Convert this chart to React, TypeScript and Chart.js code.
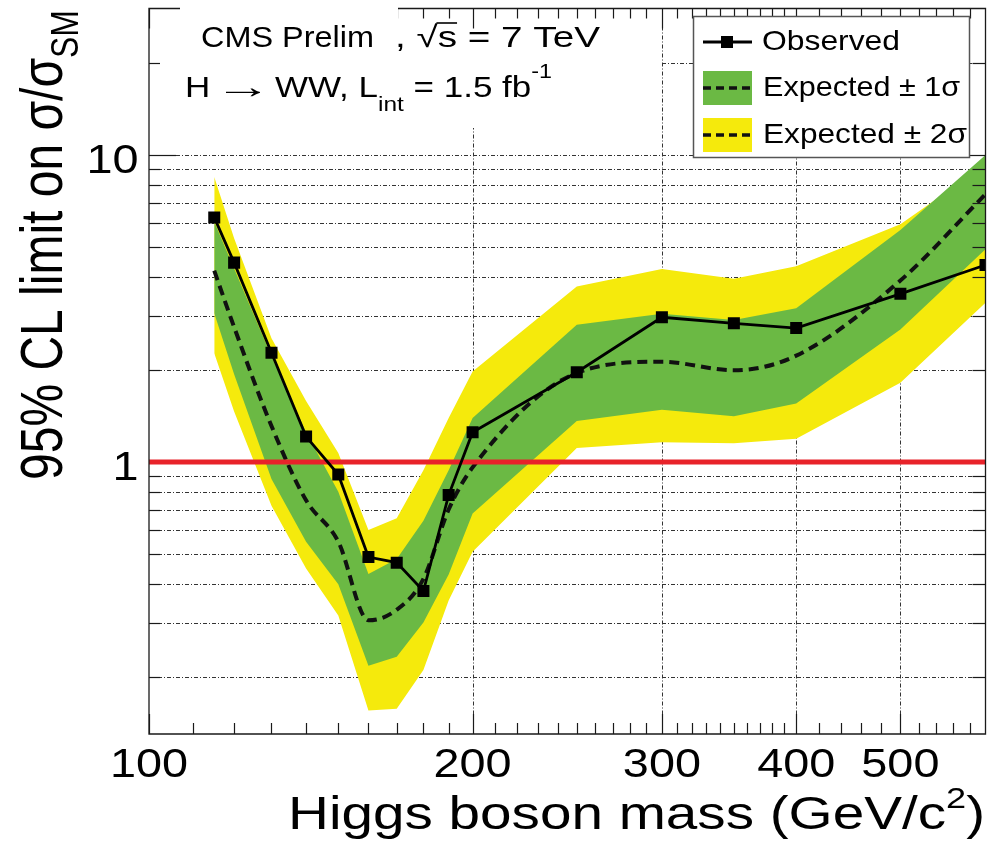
import { useEffect, useRef } from "react";
import { Chart, registerables } from "chart.js";

Chart.register(...registerables);

// ---------- data ----------
const masses = [115, 120, 130, 140, 150, 160, 170, 180, 190, 200, 250, 300, 350, 400, 500, 600];
const observed = [6.26, 4.46, 2.27, 1.21, 0.91, 0.49, 0.47, 0.38, 0.78, 1.25, 1.96, 2.96, 2.83, 2.73, 3.53, 4.38];
const expected = [4.2, 2.75, 1.31, 0.75, 0.55, 0.305, 0.33, 0.416, 0.7, 0.96, 1.95, 2.12, 1.99, 2.22, 3.9, 7.45];
const plus1 = [6.06, 4.27, 2.21, 1.25, 0.8, 0.432, 0.483, 0.643, 0.94, 1.39, 2.8, 3.04, 2.9, 3.17, 5.7, 10.0];
const minus1 = [3.05, 1.93, 0.88, 0.55, 0.4, 0.217, 0.232, 0.3, 0.43, 0.68, 1.36, 1.48, 1.41, 1.55, 2.7, 4.93];
const plus2 = [8.48, 5.35, 2.53, 1.58, 1.07, 0.6, 0.656, 0.94, 1.39, 1.97, 3.73, 4.25, 3.95, 4.34, 5.95, 9.3];
const minus2 = [2.26, 1.46, 0.72, 0.45, 0.316, 0.155, 0.157, 0.21, 0.354, 0.51, 1.11, 1.16, 1.15, 1.19, 1.81, 3.3];
const smLine = [1, 1];
const smRange = [100, 600];

const xTickValues = [100, 200, 300, 400, 500];
const xTickLabels = ["100", "200", "300", "400", "500"];
const xMinorTicks = [110, 120, 130, 140, 150, 160, 170, 180, 190, 210, 220, 230, 240, 250, 260, 270, 280, 290,
  310, 320, 330, 340, 350, 360, 370, 380, 390, 420, 440, 460, 480, 520, 540, 560, 580];
const xGridValues = [200, 300, 400, 500];

const yTickValues = [1, 10];
const yTickLabels = ["1", "10"];
const yMinorTicks = [0.2, 0.3, 0.4, 0.5, 0.6, 0.7, 0.8, 0.9, 2, 3, 4, 5, 6, 7, 8, 9, 20];
const yGridValues = [0.2, 0.3, 0.4, 0.5, 0.6, 0.7, 0.8, 0.9, 2, 3, 4, 5, 6, 7, 8, 9, 10, 20];

const legendLabels = ["Observed", "Expected \u00b1 1\u03c3", "Expected \u00b1 2\u03c3"];

// ---------- style ----------
const YELLOW = "#f5ea0c";
const GREEN = "#6bb944";
const RED = "#e8232a";
const FONT = '"Liberation Sans", Arial, Helvetica, sans-serif';

type Run = { t: string; s: number; dy?: number; over?: boolean; k?: number };

function runW(ctx: CanvasRenderingContext2D, r: Run) {
  ctx.font = `${r.s}px ${FONT}`;
  return ctx.measureText(r.t).width * (r.k ?? 1);
}

function runsWidth(ctx: CanvasRenderingContext2D, runs: Run[]) {
  let w = 0;
  for (const r of runs) w += runW(ctx, r);
  return w;
}

function drawRuns(
  ctx: CanvasRenderingContext2D,
  runs: Run[],
  x: number,
  y: number,
  o: { width?: number; sx?: number; sy?: number; rot?: number; align?: "left" | "center" | "right" } = {}
) {
  ctx.save();
  ctx.translate(x, y);
  if (o.rot) ctx.rotate(o.rot);
  const w = runsWidth(ctx, runs);
  const sx = o.width ? o.width / w : o.sx ?? 1;
  ctx.scale(sx, o.sy ?? 1);
  let cx = o.align === "center" ? -w / 2 : o.align === "right" ? -w : 0;
  ctx.textBaseline = "alphabetic";
  ctx.textAlign = "left";
  ctx.fillStyle = "#000";
  for (const r of runs) {
    const m = runW(ctx, r);
    ctx.font = `${r.s}px ${FONT}`;
    ctx.save();
    ctx.translate(cx, r.dy ?? 0);
    ctx.scale(r.k ?? 1, 1);
    ctx.fillText(r.t, 0, 0);
    ctx.restore();
    if (r.over) {
      ctx.strokeStyle = "#000";
      ctx.lineWidth = 1.6;
      ctx.setLineDash([]);
      ctx.beginPath();
      const yy = (r.dy ?? 0) - r.s * 0.8;
      ctx.moveTo(cx - 1, yy);
      ctx.lineTo(cx + m, yy);
      ctx.stroke();
    }
    cx += m;
  }
  ctx.restore();
}

const gridPlugin = {
  id: "rootGrid",
  beforeDatasetsDraw(chart: any) {
    const { ctx, chartArea } = chart;
    const { left, right, top, bottom } = chartArea;
    const xs = chart.scales.x;
    const ys = chart.scales.y;
    ctx.save();
    ctx.strokeStyle = "#333";
    ctx.lineWidth = 1;
    ctx.setLineDash([4, 2, 1, 2]);
    for (const v of yGridValues) {
      const py = Math.round(ys.getPixelForValue(v)) + 0.5;
      ctx.beginPath();
      ctx.moveTo(left, py);
      ctx.lineTo(right, py);
      ctx.stroke();
    }
    for (const v of xGridValues) {
      const px = Math.round(xs.getPixelForValue(v)) + 0.5;
      ctx.beginPath();
      ctx.moveTo(px, top);
      ctx.lineTo(px, bottom);
      ctx.stroke();
    }
    ctx.setLineDash([]);
    // white background of the second text block
    ctx.fillStyle = "#fff";
    ctx.fillRect(160, 8, 500, 120);
    ctx.restore();
  },
};

const axesPlugin = {
  id: "rootAxes",
  afterDatasetsDraw(chart: any) {
    const { ctx, chartArea } = chart;
    const { left, right, top, bottom } = chartArea;
    const xs = chart.scales.x;
    const ys = chart.scales.y;
    ctx.save();
    ctx.setLineDash([]);
    ctx.strokeStyle = "#1a1a1a";
    ctx.lineWidth = 1.3;
    // frame
    ctx.beginPath();
    ctx.rect(left, top, right - left, bottom - top);
    ctx.stroke();
    // ticks
    const tick = (x1: number, y1: number, x2: number, y2: number) => {
      ctx.beginPath();
      ctx.moveTo(x1, y1);
      ctx.lineTo(x2, y2);
      ctx.stroke();
    };
    ctx.lineWidth = 1.2;
    for (const v of xMinorTicks) {
      const px = Math.round(xs.getPixelForValue(v)) + 0.5;
      tick(px, bottom, px, bottom - 11);
      tick(px, top, px, top + 10);
    }
    for (const v of xTickValues) {
      const px = Math.round(xs.getPixelForValue(v)) + 0.5;
      tick(px, bottom, px, bottom - 20);
      tick(px, top, px, top + 20);
    }
    for (const v of yMinorTicks) {
      const py = Math.round(ys.getPixelForValue(v)) + 0.5;
      tick(left, py, left + 11, py);
      tick(right, py, right - 13, py);
    }
    for (const v of yTickValues) {
      if (v === 1) continue; // hidden under the SM line
      const py = Math.round(ys.getPixelForValue(v)) + 0.5;
      tick(left, py, left + 27, py);
      tick(right, py, right - 27, py);
    }
    ctx.restore();

    // x tick labels
    xTickValues.forEach((v, i) => {
      const px = xs.getPixelForValue(v);
      drawRuns(ctx, [{ t: xTickLabels[i], s: 40 }], px, 777, { sx: 1.17, align: "center" });
    });
    // y tick labels (ink right edge aligned)
    yTickValues.forEach((v, i) => {
      const py = ys.getPixelForValue(v);
      ctx.font = `40px ${FONT}`;
      const m = ctx.measureText(yTickLabels[i]);
      const inkR = m.actualBoundingBoxRight;
      drawRuns(ctx, [{ t: yTickLabels[i], s: 40 }], 137 - inkR * 1.17, py + 18.5, { sx: 1.17 });
    });

    // axis titles
    drawRuns(
      ctx,
      [
        { t: "Higgs boson mass (GeV/c", s: 47 },
        { t: "2", s: 30, dy: -21 },
        { t: ")", s: 47 },
      ],
      288,
      829,
      { width: 697 }
    );
    drawRuns(
      ctx,
      [
        { t: "95% CL limit on \u03c3/\u03c3", s: 48 },
        { t: "SM", s: 32, dy: 13 },
      ],
      62,
      480,
      { rot: -Math.PI / 2, width: 470, sy: 1.22 }
    );

    // first text block (covers the frame)
    ctx.save();
    ctx.fillStyle = "#fff";
    ctx.fillRect(180, 0, 218, 56);
    ctx.restore();
    drawRuns(ctx, [{ t: "CMS Prelim", s: 30 }], 201, 47, { width: 173 });
    drawRuns(
      ctx,
      [
        { t: ", ", s: 30 },
        { t: "\u221a", s: 30 },
        { t: "s", s: 30, over: true },
        { t: " = 7 TeV", s: 30 },
      ],
      395,
      47,
      { width: 205 }
    );
    drawRuns(
      ctx,
      [
        { t: "H", s: 30 },
        { t: " ", s: 12 },
        { t: "\u2192", s: 34, k: 1.45, dy: 1 },
        { t: " ", s: 10 },
        { t: "WW, L", s: 30 },
        { t: "int", s: 21, dy: 14 },
        { t: " = 1.5 fb", s: 30 },
        { t: "-1", s: 20, dy: -19 },
      ],
      185,
      97,
      { width: 367 }
    );

    // legend
    ctx.save();
    ctx.fillStyle = "#fff";
    ctx.fillRect(693, 16, 276, 141);
    ctx.strokeStyle = "#555";
    ctx.lineWidth = 1.5;
    ctx.strokeRect(693.5, 16.5, 276, 141);
    // observed sample
    ctx.strokeStyle = "#000";
    ctx.lineWidth = 3;
    ctx.beginPath();
    ctx.moveTo(703, 42);
    ctx.lineTo(752, 42);
    ctx.stroke();
    ctx.fillStyle = "#000";
    ctx.fillRect(721, 36, 12, 12);
    // band samples
    ctx.fillStyle = GREEN;
    ctx.fillRect(703, 71, 49, 34);
    ctx.fillStyle = YELLOW;
    ctx.fillRect(703, 118, 49, 34);
    ctx.strokeStyle = "#111";
    ctx.lineWidth = 3.5;
    ctx.setLineDash([8, 5]);
    ctx.beginPath();
    ctx.moveTo(703, 88);
    ctx.lineTo(752, 88);
    ctx.moveTo(703, 135);
    ctx.lineTo(752, 135);
    ctx.stroke();
    ctx.restore();
    drawRuns(ctx, [{ t: legendLabels[0], s: 28 }], 762, 50, { width: 138 });
    drawRuns(ctx, [{ t: legendLabels[1], s: 28 }], 763, 96, { width: 197 });
    drawRuns(ctx, [{ t: legendLabels[2], s: 28 }], 763, 143, { width: 204 });
  },
};

const pts = (ys: number[]) => masses.map((m, i) => ({ x: m, y: ys[i] }));

export default function App() {
  const ref = useRef<HTMLCanvasElement>(null);
  useEffect(() => {
    const chart = new Chart(ref.current as HTMLCanvasElement, {
      type: "line",
      data: {
        datasets: [
          {
            label: "+2s",
            data: pts(plus2),
            fill: "+1",
            backgroundColor: YELLOW,
            borderColor: "transparent",
            borderWidth: 0,
            pointRadius: 0,
            order: 6,
          },
          {
            label: "-2s",
            data: pts(minus2),
            fill: false,
            borderColor: "transparent",
            borderWidth: 0,
            pointRadius: 0,
            order: 5,
          },
          {
            label: "+1s",
            data: pts(plus1),
            fill: "+1",
            backgroundColor: GREEN,
            borderColor: "transparent",
            borderWidth: 0,
            pointRadius: 0,
            order: 4,
          },
          {
            label: "-1s",
            data: pts(minus1),
            fill: false,
            borderColor: "transparent",
            borderWidth: 0,
            pointRadius: 0,
            order: 3,
          },
          {
            label: "Expected",
            data: pts(expected),
            fill: false,
            borderColor: "#111",
            borderWidth: 4,
            borderDash: [10, 6],
            pointRadius: 0,
            cubicInterpolationMode: "monotone",
            order: 2,
          },
          {
            label: "SM",
            data: smRange.map((m, i) => ({ x: m, y: smLine[i] })),
            fill: false,
            borderColor: RED,
            borderWidth: 5,
            pointRadius: 0,
            order: 1,
          },
          {
            label: "Observed",
            data: pts(observed),
            fill: false,
            borderColor: "#000",
            borderWidth: 2.8,
            pointStyle: "rect",
            pointRadius: 8.5,
            pointBackgroundColor: "#000",
            pointBorderWidth: 0,
            order: 0,
          },
        ] as any,
      },
      options: {
        animation: false,
        responsive: false,
        devicePixelRatio: 1,
        events: [],
        layout: { padding: { left: 149, top: 7, right: 2, bottom: 107 } },
        scales: {
          x: { type: "logarithmic", min: 100, max: 600, display: false },
          y: { type: "logarithmic", min: 0.13, max: 30, display: false },
        },
        plugins: {
          legend: { display: false },
          tooltip: { enabled: false },
        },
      } as any,
      plugins: [gridPlugin, axesPlugin],
    });
    return () => chart.destroy();
  }, []);

  return (
    <div
      style={{
        position: "fixed",
        left: 0,
        top: 0,
        width: 990,
        height: 841,
        overflow: "hidden",
        background: "#fff",
      }}
    >
      <canvas ref={ref} width={994} height={841} style={{ display: "block", width: 994, height: 841 }} />
    </div>
  );
}
